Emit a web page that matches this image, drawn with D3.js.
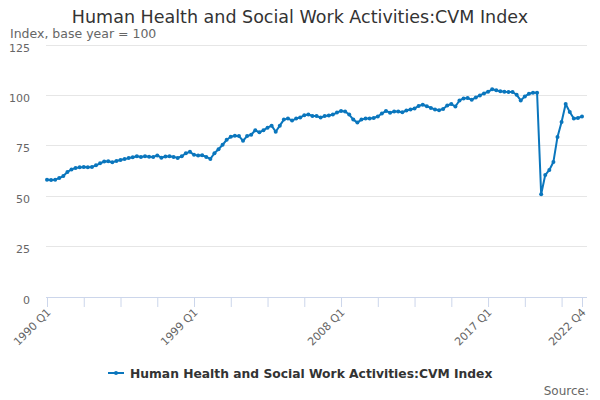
<!DOCTYPE html>
<html><head><meta charset="utf-8">
<script src="https://cdn.jsdelivr.net/npm/d3@7"></script>
<style>body{margin:0;background:#fff;}svg{display:block;font-family:"DejaVu Sans",sans-serif;}</style>
</head><body>
<svg id="c" width="600" height="400"></svg>
<script>
const title = "Human Health and Social Work Activities:CVM Index";
const subtitle = "Index, base year = 100";
const seriesName = "Human Health and Social Work Activities:CVM Index";
const years = d3.range(1990, 2023);
const quarters = ["Q1","Q2","Q3","Q4"];
const categories = years.flatMap(y => quarters.map(q => y + " " + q));
const values = [
  58.2, 58, 58.2, 59,
  60, 62, 63.3, 64,
  64.3, 64.5, 64.4, 64.5,
  65.3, 66.3, 67.2, 67.3,
  66.8, 67.5, 68, 68.4,
  68.9, 69.3, 69.8, 69.5,
  69.8, 69.6, 69.5, 70.2,
  69.1, 69.7, 69.8, 69.5,
  69, 69.8, 71.3, 72,
  70.5, 70.2, 70.3, 69.5,
  68.5, 71.3, 73.3, 75.5,
  78, 79.5, 80, 79.8,
  77.5, 79.8, 80.5, 82.7,
  81.7, 82.7, 84, 85,
  82, 85, 88, 88.6,
  87.5, 88.5, 89, 90.2,
  90.5, 89.8, 89.8, 89,
  89.8, 90, 90.5, 91.5,
  92.3, 92, 90.5, 88,
  86.5, 88, 88.6, 88.6,
  88.8, 89.5, 91, 92.3,
  91.4, 92, 92, 91.6,
  92.5, 93, 93.5, 94.8,
  95.4, 94.6, 93.8, 93,
  92.6, 93.3, 95, 95.7,
  94.5, 97.5, 98.5, 98.7,
  97.8, 99, 100, 101,
  101.8, 103, 102.6, 102,
  101.8, 101.7, 101.7, 100.3,
  97.5, 99.5, 100.8, 101.3,
  101.3, 51, 60.5, 63,
  67, 79.4, 86.8, 95.7,
  91.8, 88.5, 88.8, 89.5
];
const yTicks = [0, 25, 50, 75, 100, 125];
const xLabels = ["1990 Q1", "1999 Q1", "2008 Q1", "2017 Q1", "2022 Q4"];

const svg = d3.select("#c");
const x = d3.scalePoint().domain(categories).range([47, 582]);
const y = d3.scaleLinear().domain([0, 125]).range([297, 45]);
const color = "#0a76bd";

svg.append("text").attr("x", 300).attr("y", 22.5).attr("text-anchor", "middle")
  .attr("font-size", 17.5).attr("fill", "#333").text(title);
svg.append("text").attr("x", 10).attr("y", 38).attr("font-size", 12.5)
  .attr("fill", "#666").text(subtitle);

// gridlines
svg.append("g").selectAll("line").data(yTicks.filter(d => d > 0)).join("line")
  .attr("x1", 46).attr("x2", 587).attr("y1", d => y(d)).attr("y2", d => y(d))
  .attr("stroke", "#e6e6e6").attr("stroke-width", 1).attr("shape-rendering", "crispEdges");

// y labels
const yAxis = d3.axisLeft(y).tickValues(yTicks).tickSize(0).tickPadding(0);
const gy = svg.append("g").attr("transform", "translate(30,2.5)").call(yAxis);
gy.select(".domain").remove();
gy.selectAll("text").attr("font-size", 11).attr("fill", "#666")
  .attr("font-family", "DejaVu Sans, sans-serif");

// x axis
const tickCats = categories.filter((c, i) => i % 9 === 0 || i === categories.length - 1);
const xAxis = d3.axisBottom(x).tickValues(tickCats).tickSize(10).tickSizeOuter(0)
  .tickFormat(d => xLabels.includes(d) ? d : "");
const gx = svg.append("g").attr("transform", "translate(0,297)").call(xAxis);
gx.select(".domain").attr("d", "M46,0.5H587").attr("stroke", "#ccd6eb");
gx.selectAll(".tick line").attr("stroke", "#ccd6eb");
gx.selectAll(".tick text").attr("font-size", 11).attr("fill", "#666")
  .attr("font-family", "DejaVu Sans, sans-serif")
  .attr("text-anchor", "end").attr("dy", null).attr("y", 0)
  .attr("transform", "translate(4,16) rotate(-45)");

// line
const data = categories.map((c, i) => ({c, v: values[i]}));
svg.append("path").datum(data)
  .attr("fill", "none").attr("stroke", color).attr("stroke-width", 2)
  .attr("stroke-linejoin", "round")
  .attr("d", d3.line().x(d => x(d.c)).y(d => y(d.v)));
svg.append("g").selectAll("circle").data(data).join("circle")
  .attr("cx", d => x(d.c)).attr("cy", d => y(d.v)).attr("r", 2).attr("fill", color);

// legend
const lg = svg.append("g");
lg.append("line").attr("x1", 108).attr("x2", 124).attr("y1", 373).attr("y2", 373)
  .attr("stroke", color).attr("stroke-width", 2);
lg.append("circle").attr("cx", 116).attr("cy", 373).attr("r", 2).attr("fill", color);
lg.append("text").attr("x", 130).attr("y", 377.5).attr("font-size", 12.3).attr("font-weight", "bold")
  .attr("fill", "#333").text(seriesName);

svg.append("text").attr("x", 589).attr("y", 395).attr("text-anchor", "end")
  .attr("font-size", 12).attr("fill", "#666").text("Source:");
</script>
</body></html>
